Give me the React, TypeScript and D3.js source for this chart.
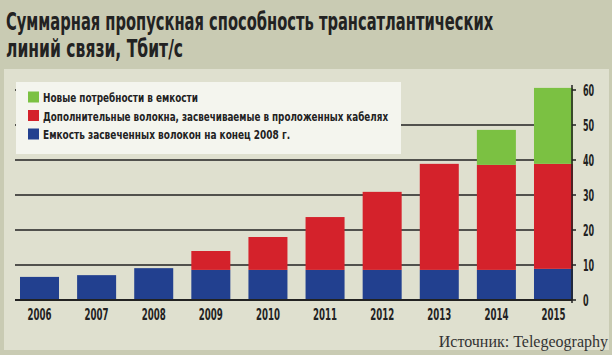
import React, { useLayoutEffect, useRef, useState } from "react";
import * as d3 from "d3";

const years = ["2006", "2007", "2008", "2009", "2010", "2011", "2012", "2013", "2014", "2015"];
const litCapacity = [6.6, 7.1, 9.1, 8.6, 8.6, 8.6, 8.6, 8.6, 8.6, 8.9];
const addedFibers = [0, 0, 0, 5.4, 9.4, 15.1, 22.3, 30.3, 30.0, 30.0];
const newDemand = [0, 0, 0, 0, 0, 0, 0, 0, 10.0, 21.7];
const yTicks = [0, 10, 20, 30, 40, 50, 60];
const gridValues = [10, 20, 30, 40, 50];
const titleLines = ["Суммарная пропускная способность трансатлантических", "линий связи, Тбит/с"];
const legendItems = [
  { label: "Новые потребности в емкости", color: "#7bc142" },
  { label: "Дополнительные волокна, засвечиваемые в проложенных кабелях", color: "#d4222b" },
  { label: "Емкость засвеченных волокон на конец 2008 г.", color: "#22408f" },
];
const sourceText = "Источник: Telegeography";

const seriesColors = ["#22408f", "#d4222b", "#7bc142"];
const condensed = "'DejaVu Sans Condensed', 'DejaVu Sans', sans-serif";
const titleWidths = [487, 177];
const legendWidths = [155, 345, 247];

function FitText({ x, y, width, children, ...rest }: any) {
  const ref = useRef<SVGTextElement>(null);
  const [k, setK] = useState(0.66);
  useLayoutEffect(() => {
    if (ref.current) {
      const len = ref.current.getComputedTextLength();
      if (len > 0) setK(width / len);
    }
  }, [width, children]);
  return (
    <text ref={ref} transform={`translate(${x},${y}) scale(${k},1)`} {...rest}>
      {children}
    </text>
  );
}

export default function App() {
  const x = d3.scaleBand<string>().domain(years).range([20, 573]).paddingInner(0.317).paddingOuter(0);
  const y = d3.scaleLinear().domain([0, 60]).range([300, 90]);

  const rows = years.map((yr, i) => ({ year: yr, a: litCapacity[i], b: addedFibers[i], c: newDemand[i] }));
  const stack = d3.stack<any>().keys(["a", "b", "c"])(rows);

  const axisX = 572;
  return (
    <svg width={612} height={355} style={{ position: "absolute", left: 0, top: 0 }}>
      <rect x={0} y={0} width={612} height={355} fill="#c9cbb3" />
      <rect x={4} y={69} width={605} height={281} fill="#dfe0cf" />
      {titleLines.map((t, i) => (
        <FitText
          key={i}
          x={6}
          y={30 + i * 26.5}
          width={titleWidths[i]}
          fontFamily={condensed}
          fontWeight="bold"
          fontSize={25}
          fill="#222"
        >
          {t}
        </FitText>
      ))}
      {/* gridlines */}
      <line x1={15} x2={400} y1={y(60)} y2={y(60)} stroke="#222" strokeWidth={1.5} />
      {gridValues.map((v) => (
        <line key={v} x1={15} x2={axisX} y1={y(v)} y2={y(v)} stroke="#222" strokeWidth={1.5} />
      ))}
      {/* legend */}
      <rect x={16} y={82} width={385} height={72} fill="#f4f5ee" />
      {legendItems.map((it, i) => (
        <g key={i} transform={`translate(28, ${97 + i * 18.5})`}>
          <rect x={0} y={-5.5} width={11} height={11} fill={it.color} />
          <FitText
            x={15}
            y={5}
            width={legendWidths[i]}
            fontFamily={condensed}
            fontWeight="bold"
            fontSize={13}
            fill="#222"
          >
            {it.label}
          </FitText>
        </g>
      ))}
      {/* bars */}
      {stack.map((s, si) =>
        s.map((d, i) =>
          d[1] - d[0] > 0 ? (
            <rect
              key={`${si}-${i}`}
              x={x(years[i])}
              width={x.bandwidth()}
              y={y(d[1])}
              height={y(d[0]) - y(d[1])}
              fill={seriesColors[si]}
            />
          ) : null
        )
      )}
      {/* baseline */}
      <line x1={15} x2={axisX} y1={y(0)} y2={y(0)} stroke="#222" strokeWidth={2} />
      {/* right axis */}
      <line x1={axisX} x2={axisX} y1={y(60) - 5} y2={y(0) + 3} stroke="#222" strokeWidth={1.5} />
      {yTicks.map((v) => (
        <g key={v}>
          <line x1={axisX} x2={axisX + 4} y1={y(v)} y2={y(v)} stroke="#222" strokeWidth={1.5} />
          <FitText
            x={583}
            y={y(v) + 5.5}
            width={String(v).length * 5.6}
            fontFamily={condensed}
            fontWeight="bold"
            fontSize={15}
            fill="#222"
          >
            {v}
          </FitText>
        </g>
      ))}
      {years.map((yr) => (
        <FitText
          key={yr}
          x={(x(yr) as number) + x.bandwidth() / 2 - 12}
          y={320}
          width={24}
          fontFamily={condensed}
          fontWeight="bold"
          fontSize={15}
          fill="#222"
        >
          {yr}
        </FitText>
      ))}
      <text x={608} y={347} textAnchor="end" fontFamily="'Liberation Serif', 'DejaVu Serif', serif" fontSize={16} fill="#333">
        {sourceText}
      </text>
    </svg>
  );
}
